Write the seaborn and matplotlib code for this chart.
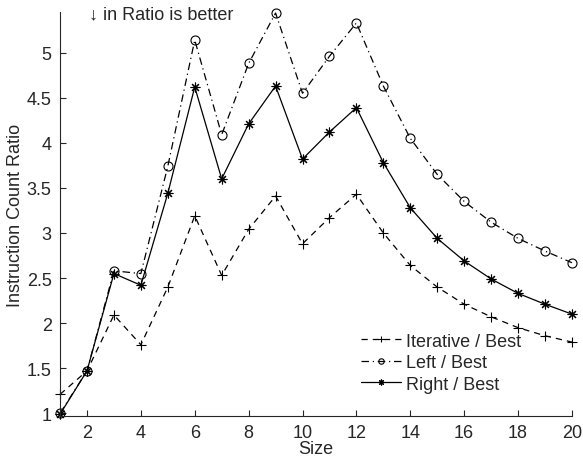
import matplotlib
matplotlib.use("Agg")
import matplotlib.pyplot as plt
import numpy as np
import pandas as pd
import seaborn as sns

sizes = list(range(1, 21))
iterative = [1.21, 1.47, 2.09, 1.76, 2.40, 3.19, 2.53, 3.04, 3.41, 2.88,
             3.17, 3.43, 3.00, 2.64, 2.40, 2.21, 2.07, 1.95, 1.86, 1.79]
left = [1.00, 1.47, 2.58, 2.55, 3.74, 5.14, 4.09, 4.88, 5.44, 4.55,
        4.96, 5.33, 4.63, 4.05, 3.65, 3.35, 3.12, 2.94, 2.80, 2.67]
right = [0.99, 1.47, 2.55, 2.42, 3.44, 4.62, 3.60, 4.21, 4.63, 3.82,
         4.12, 4.39, 3.78, 3.28, 2.94, 2.69, 2.49, 2.33, 2.21, 2.10]

series = [("Iterative / Best", iterative, (0, (5, 4)), "+", 7, "none"),
          ("Left / Best", left, (0, (6, 3, 1, 3)), "o", 6.5, "none"),
          ("Right / Best", right, "-", (8, 2, 0), 7, "black")]

sns.set_style("ticks")
plt.rcParams['font.family'] = ['Liberation Sans', 'DejaVu Sans']

fig = plt.figure(figsize=(5.83, 4.6), dpi=100)
ax = fig.add_axes([0.103, 0.0935, 0.878, 0.878])

for name, vals, ls, mk, ms, fc in series:
    df = pd.DataFrame({"Size": sizes, "Ratio": vals})
    sns.lineplot(data=df, x="Size", y="Ratio", ax=ax, color="black",
                 linestyle=ls, linewidth=0.9, marker=mk, markersize=ms,
                 markerfacecolor=fc, markeredgecolor="black",
                 markeredgewidth=0.8, label=name, clip_on=False)

ax.set_xlim(1, 20)
ax.set_ylim(0.97, 5.45)
ax.set_xticks(np.arange(2, 21, 2))
ax.set_yticks([1, 1.5, 2, 2.5, 3, 3.5, 4, 4.5, 5])
ax.set_yticklabels(["1", "1.5", "2", "2.5", "3", "3.5", "4", "4.5", "5"])
ax.tick_params(direction="in", length=4, labelsize=13, width=0.8)
ax.tick_params(axis="x", pad=6)
ax.tick_params(axis="y", pad=6)
ax.set_xlabel("Size", fontsize=13, labelpad=-1)
ax.set_ylabel("Instruction Count Ratio", fontsize=13, labelpad=2)
sns.despine(ax=ax)
for s in ["left", "bottom"]:
    ax.spines[s].set_linewidth(0.8)

ax.text(4.75, 5.43, "↓ in Ratio is better", fontsize=13, ha="center",
        va="center", family=['Liberation Sans', 'DejaVu Sans'])

ax.legend(loc="lower right", bbox_to_anchor=(0.915, 0.04), frameon=False,
          fontsize=13, handlelength=2.2, handletextpad=0.3, markerscale=0.6,
          labelspacing=0.25, borderaxespad=0)

fig.savefig("out.png", dpi=100)
